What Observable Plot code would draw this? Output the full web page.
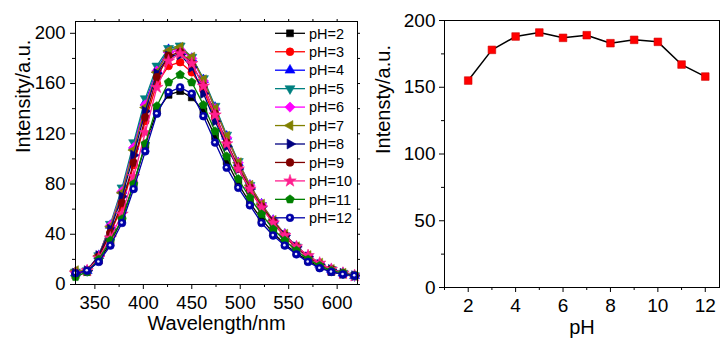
<!DOCTYPE html>
<html>
<head>
<meta charset="utf-8">
<script src="https://cdn.jsdelivr.net/npm/d3@7"></script>
<script src="https://cdn.jsdelivr.net/npm/@observablehq/plot@0.6"></script>
<style>
  html, body { margin: 0; padding: 0; background: #fff; }
  #wrap { display: flex; width: 720px; height: 338px; overflow: hidden; background: #fff; }
  #wrap svg { display: block; }
</style>
</head>
<body>
<div id="wrap"></div>
<script>
// ---------- data ----------
const wavelengths = [330,342,354,366,378,390,402,414,426,438,450,462,474,486,498,510,522,534,546,558,570,582,594,606,618];
const seriesLabels = ["pH=2","pH=3","pH=4","pH=5","pH=6","pH=7","pH=8","pH=9","pH=10","pH=11","pH=12"];

const intensity_pH2  = [9, 10, 19, 33, 52, 80, 111, 138, 151, 154, 149, 138, 118, 98, 80, 65, 52, 41, 32, 25, 19, 14, 10, 8, 7];
const intensity_pH3  = [9, 11, 22, 41, 62, 95, 130, 160, 174, 177, 169, 155, 133, 111, 92, 75, 61, 49, 38, 29, 22, 16, 12, 9, 7];
const intensity_pH4  = [9, 11, 23, 47, 75, 110, 145, 171, 187, 188, 180, 163, 141, 118, 97, 79, 64, 51, 40, 30, 22, 16, 12, 9, 7];
const intensity_pH5  = [10, 11, 23, 48, 77, 113, 148, 174, 188, 190, 181, 164, 142, 119, 98, 79, 63, 50, 39, 30, 22, 16, 12, 9, 7];
const intensity_pH6  = [10, 11, 23, 47, 74, 109, 143, 170, 185, 187, 180, 162, 140, 117, 97, 79, 64, 51, 40, 30, 23, 17, 12, 9, 7];
const intensity_pH7  = [11, 11, 23, 46, 73, 107, 141, 169, 186, 189, 181, 163, 140, 118, 97, 79, 64, 51, 40, 30, 23, 17, 12, 9, 7];
const intensity_pH8  = [9, 11, 23, 44, 70, 103, 138, 168, 182, 183, 173, 152, 130, 110, 92, 76, 62, 50, 39, 30, 22, 16, 12, 9, 7];
const intensity_pH9  = [9, 11, 22, 41, 65, 97, 133, 165, 182, 185, 176, 158, 136, 113, 94, 77, 62, 50, 39, 30, 22, 16, 12, 9, 7];
const intensity_pH10 = [9, 11, 21, 37, 56, 86, 121, 157, 178, 184, 176, 158, 135, 112, 92, 76, 61, 49, 39, 30, 23, 17, 12, 9, 7];
const intensity_pH11 = [6, 10, 20, 35, 52, 80, 112, 142, 161, 167, 161, 143, 122, 102, 84, 69, 56, 44, 35, 27, 20, 15, 11, 9, 7];
const intensity_pH12 = [9, 11, 18, 31, 49, 76, 106, 136, 153, 157, 152, 134, 113, 93, 77, 63, 49, 39, 31, 24, 18, 13, 10, 8, 7];

const spectra = [intensity_pH2, intensity_pH3, intensity_pH4, intensity_pH5, intensity_pH6, intensity_pH7,
                 intensity_pH8, intensity_pH9, intensity_pH10, intensity_pH11, intensity_pH12];

const pHValues = [2, 3, 4, 5, 6, 7, 8, 9, 10, 11, 12];
const peakIntensity = [155, 178, 188, 191, 187, 189, 183, 185.5, 184, 167, 158];

// tick labels
const waveTicks = [350, 400, 450, 500, 550, 600];
const waveMinorTicks = [375, 425, 475, 525, 575];
const leftYTicks = [0, 40, 80, 120, 160, 200];
const leftYMinorTicks = [20, 60, 100, 140, 180];
const pHTicks = [2, 4, 6, 8, 10, 12];
const pHMinorTicks = [1, 3, 5, 7, 9, 11];
const rightYTicks = [0, 50, 100, 150, 200];
const rightYMinorTicks = [25, 75, 125, 175];

// ---------- styles ----------
const seriesColors = ["#000000","#ff0000","#0000ff","#008080","#ff00ff","#808000","#000080","#800000","#ff1f8f","#008000","#0000a8"];
const seriesSymbolNames = ["square","circle","triUp","triDown","diamond","triLeft","triRight","circle","star","pentagon","ball"];

function regPoly(n, a0, scale = 1) {
  return {
    draw(ctx, size) {
      const R = scale * Math.sqrt(size / (n / 2 * Math.sin(2 * Math.PI / n)));
      for (let k = 0; k < n; k++) {
        const a = a0 + 2 * Math.PI * k / n;
        const x = R * Math.cos(a), y = R * Math.sin(a);
        if (k) ctx.lineTo(x, y); else ctx.moveTo(x, y);
      }
      ctx.closePath();
    }
  };
}
const symbolMap = {
  square: d3.symbolSquare,
  circle: d3.symbolCircle,
  ball: d3.symbolCircle,
  triUp: regPoly(3, -Math.PI / 2, 0.95),
  triDown: regPoly(3, Math.PI / 2, 0.95),
  triLeft: regPoly(3, Math.PI, 0.95),
  triRight: regPoly(3, 0, 0.95),
  diamond: regPoly(4, -Math.PI / 2, 1.05),
  pentagon: regPoly(5, -Math.PI / 2, 1),
  star: d3.symbolStar
};

const font = "'Liberation Sans', Arial, Helvetica, sans-serif";

// ---------- left chart ----------
const spectraRows = spectra.flatMap((vals, s) =>
  vals.map((v, i) => ({series: seriesLabels[s], wavelength: wavelengths[i], intensity: v})));

const leftMarks = [];
spectra.forEach((vals, s) => {
  const rows = spectraRows.filter(d => d.series === seriesLabels[s]);
  leftMarks.push(Plot.line(rows, {x: "wavelength", y: "intensity", stroke: seriesColors[s], strokeWidth: 1.3}));
  leftMarks.push(Plot.dot(rows, {x: "wavelength", y: "intensity", r: 3.9,
    symbol: symbolMap[seriesSymbolNames[s]], fill: seriesColors[s], stroke: seriesColors[s], strokeWidth: 0.6}));
  if (seriesSymbolNames[s] === "ball") {
    leftMarks.push(Plot.dot(rows, {x: "wavelength", y: "intensity", r: 1.3, fill: "#e8e8ff", stroke: "none", dx: -0.4, dy: -0.4}));
  }
});

const leftPlot = Plot.plot({
  width: 360, height: 338,
  marginLeft: 75, marginRight: 3, marginTop: 21, marginBottom: 54,
  style: {fontFamily: font, fontSize: "18.5px", color: "#000", background: "#fff", overflow: "visible"},
  x: {domain: [330, 621]},
  y: {domain: [0, 209.4]},
  marks: [
    ...leftMarks,
    Plot.frame({stroke: "#000", strokeWidth: 1}),
    Plot.axisX({ticks: waveTicks, tickSize: 5, tickPadding: 6, label: null, tickFormat: d => d, fontSize: 18.5}),
    Plot.axisX({ticks: waveMinorTicks, tickSize: 3, text: null, label: null}),
    Plot.axisX({anchor: "top", ticks: waveTicks.concat(waveMinorTicks), tickSize: 3, text: null, label: null}),
    Plot.axisY({ticks: leftYTicks, tickSize: 5, tickPadding: 5, label: null, tickFormat: d => d, fontSize: 18.5}),
    Plot.axisY({ticks: leftYMinorTicks, tickSize: 3, text: null, label: null}),
    Plot.axisY({anchor: "right", ticks: leftYTicks.concat(leftYMinorTicks), tickSize: 3, text: null, label: null}),
    Plot.text(["Wavelength/nm"], {text: d => d, frameAnchor: "bottom", dy: 45, lineAnchor: "bottom", fontSize: 20}),
    Plot.text(["Intensity/a.u."], {text: d => d, frameAnchor: "left", dx: -60, rotate: -90, lineAnchor: "top", fontSize: 20})
  ]
});

// legend (inside left chart)
{
  const g = d3.select(leftPlot).append("g")
    .attr("font-family", font).attr("font-size", "14.5px").attr("text-anchor", "start");
  seriesLabels.forEach((lab, i) => {
    const cy = 33.3 + i * 18.45;
    const col = seriesColors[i];
    g.append("line").attr("x1", 275).attr("x2", 305).attr("y1", cy).attr("y2", cy)
      .attr("stroke", col).attr("stroke-width", 1.3);
    g.append("path").attr("d", d3.symbol(symbolMap[seriesSymbolNames[i]], Math.PI * 3.9 * 3.9)())
      .attr("transform", `translate(290,${cy})`).attr("fill", col).attr("stroke", col).attr("stroke-width", 0.6);
    if (seriesSymbolNames[i] === "ball") {
      g.append("circle").attr("cx", 289.6).attr("cy", cy - 0.4).attr("r", 1.3).attr("fill", "#e8e8ff");
    }
    g.append("text").attr("x", 309).attr("y", cy).attr("dy", "0.36em")
      .attr("text-anchor", "start").attr("fill", "#000").text(lab);
  });
}

// ---------- right chart ----------
const peakRows = pHValues.map((p, i) => ({pH: p, intensity: peakIntensity[i]}));

const rightPlot = Plot.plot({
  width: 360, height: 338,
  marginLeft: 84, marginRight: 1, marginTop: 20, marginBottom: 51,
  style: {fontFamily: font, fontSize: "19px", color: "#000", background: "#fff", overflow: "visible"},
  x: {domain: [1, 12.6]},
  y: {domain: [0, 200]},
  marks: [
    Plot.line(peakRows, {x: "pH", y: "intensity", stroke: "#000", strokeWidth: 1.5}),
    Plot.dot(peakRows, {x: "pH", y: "intensity", symbol: "square", r: 4.3, fill: "#ff0000", stroke: "#d00000", strokeWidth: 0.6}),
    Plot.frame({stroke: "#000", strokeWidth: 1}),
    Plot.axisX({ticks: pHTicks, tickSize: 5, tickPadding: 6, label: null, tickFormat: d => d, fontSize: 19}),
    Plot.axisX({ticks: pHMinorTicks, tickSize: 3, text: null, label: null}),
    Plot.axisY({ticks: rightYTicks, tickSize: 5, tickPadding: 4, label: null, tickFormat: d => d, fontSize: 19}),
    Plot.axisY({ticks: rightYMinorTicks, tickSize: 3, text: null, label: null}),
    Plot.text(["pH"], {text: d => d, frameAnchor: "bottom", dy: 46, lineAnchor: "bottom", fontSize: 20}),
    Plot.text(["Intensty/a.u."], {text: d => d, frameAnchor: "left", dx: -69, rotate: -90, lineAnchor: "top", fontSize: 20})
  ]
});

document.getElementById("wrap").append(leftPlot, rightPlot);
</script>
</body>
</html>
